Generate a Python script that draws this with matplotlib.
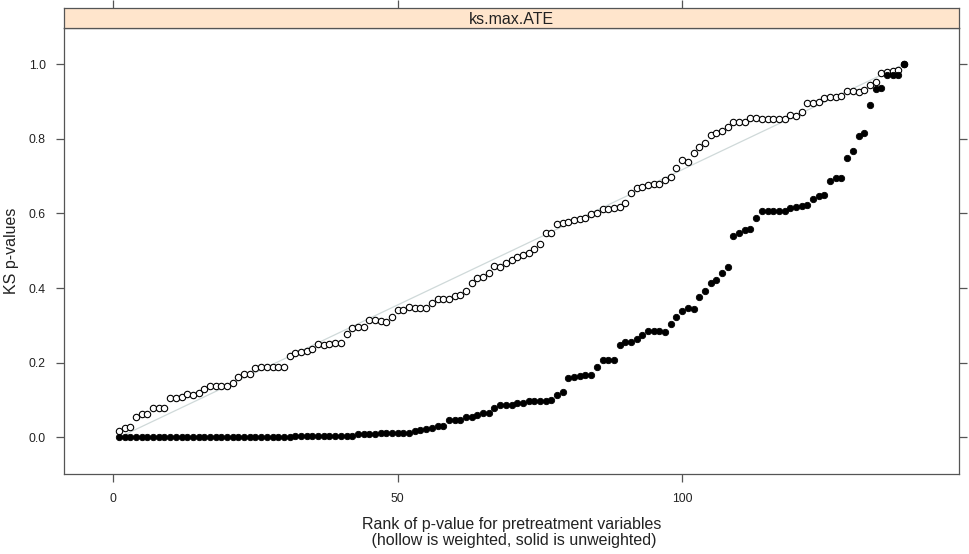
import numpy as np
import matplotlib.pyplot as plt

plt.rcParams['font.family'] = ['Liberation Sans', 'DejaVu Sans']

# KS p-values, sorted
weighted = [0.017, 0.024, 0.029, 0.055, 0.062, 0.062, 0.080, 0.078, 0.080, 0.106,
            0.106, 0.109, 0.117, 0.115, 0.118, 0.131, 0.137, 0.137, 0.137, 0.137,
            0.147, 0.163, 0.170, 0.170, 0.187, 0.189, 0.189, 0.189, 0.189, 0.189,
            0.219, 0.225, 0.229, 0.231, 0.238, 0.250, 0.248, 0.250, 0.254, 0.252,
            0.276, 0.292, 0.297, 0.295, 0.315, 0.315, 0.313, 0.310, 0.323, 0.341,
            0.341, 0.350, 0.348, 0.348, 0.346, 0.361, 0.370, 0.371, 0.370, 0.379,
            0.382, 0.393, 0.415, 0.426, 0.431, 0.440, 0.459, 0.457, 0.468, 0.475,
            0.484, 0.490, 0.493, 0.504, 0.518, 0.547, 0.547, 0.572, 0.574, 0.578,
            0.583, 0.584, 0.587, 0.599, 0.601, 0.611, 0.611, 0.616, 0.618, 0.627,
            0.654, 0.667, 0.670, 0.676, 0.679, 0.679, 0.690, 0.697, 0.721, 0.742,
            0.737, 0.761, 0.779, 0.788, 0.811, 0.817, 0.822, 0.833, 0.846, 0.846,
            0.846, 0.855, 0.855, 0.853, 0.853, 0.853, 0.853, 0.852, 0.864, 0.861,
            0.873, 0.895, 0.895, 0.900, 0.909, 0.911, 0.913, 0.915, 0.929, 0.928,
            0.926, 0.931, 0.944, 0.951, 0.976, 0.980, 0.983, 0.985, 1.000]

unweighted = [0.0] * 31 + [0.004] * 11 + [0.008] * 4 + [0.011] * 6 + \
    [0.017, 0.020, 0.023, 0.026, 0.030, 0.030, 0.046, 0.046, 0.048, 0.055,
     0.055, 0.060, 0.066, 0.066, 0.080, 0.086, 0.086, 0.087, 0.091, 0.093,
     0.098, 0.098, 0.098, 0.098, 0.100, 0.113, 0.122, 0.158, 0.162, 0.164,
     0.167, 0.167, 0.188, 0.208, 0.208, 0.208, 0.248, 0.257, 0.257, 0.263,
     0.274, 0.285, 0.285, 0.285, 0.283, 0.303, 0.322, 0.338, 0.347, 0.345,
     0.377, 0.393, 0.413, 0.423, 0.441, 0.456, 0.540, 0.549, 0.556, 0.558,
     0.587, 0.607, 0.607, 0.607, 0.607, 0.607, 0.616, 0.617, 0.621, 0.623,
     0.639, 0.647, 0.649, 0.688, 0.696, 0.695, 0.750, 0.768, 0.808, 0.817,
     0.890, 0.933, 0.935, 0.971, 0.971, 0.971, 1.000]

n = len(weighted)
rank = np.arange(1, n + 1)

x_ticks = [0, 50, 100]
y_ticks = [0.0, 0.2, 0.4, 0.6, 0.8, 1.0]
y_ticklabels = ['0.0', '0.2', '0.4', '0.6', '0.8', '1.0']

fig = plt.figure(figsize=(9.69, 5.54), dpi=100)
W, H = 969.0, 554.0
# panel and strip placed in pixels like the lattice output
ax = fig.add_axes([64 / W, (H - 474) / H, 895 / W, 446 / H])
strip = fig.add_axes([64 / W, (H - 28) / H, 895 / W, 20 / H])

pad = 0.07 * (n - 1)
xlim = (1 - pad, n + pad)

box_col = '#555555'
txt_col = '#222222'

# reference line for uniform p-values
ax.plot([1, n], [0, 1], color='#cfd9d9', lw=0.9, zorder=1)
ax.plot(rank, weighted, linestyle='none', marker='o', ms=4.6, mfc='white',
        mec='black', mew=0.8, zorder=3)
ax.plot(rank, unweighted, linestyle='none', marker='o', ms=4.6, mfc='black',
        mec='black', mew=0.6, zorder=4)

ax.set_xlim(xlim)
ax.set_ylim(-0.098, 1.097)
ax.set_xticks(x_ticks)
ax.set_yticks(y_ticks)
ax.set_yticklabels(y_ticklabels)
ax.tick_params(axis='both', direction='out', length=6, width=0.9, color=box_col,
               labelsize=8.8, labelcolor=txt_col, pad=7)
ax.tick_params(axis='x', pad=8)
ax.tick_params(axis='y', right=True, labelright=False)
ax.tick_params(axis='x', top=False)
for s in ax.spines.values():
    s.set_color(box_col)
    s.set_linewidth(0.9)

ax.set_ylabel('KS p-values', fontsize=11.5, color=txt_col, labelpad=7)
ax.set_xlabel('Rank of p-value for pretreatment variables\n'
              ' (hollow is weighted, solid is unweighted)',
              fontsize=11.5, color=txt_col, labelpad=8, linespacing=1.15)

# strip with the panel name, top ticks sit above it
strip.set_facecolor('#ffe5cc')
strip.set_xlim(xlim)
strip.set_ylim(0, 1)
strip.set_yticks([])
strip.set_xticks(x_ticks)
strip.tick_params(axis='x', bottom=False, labelbottom=False, top=True,
                  labeltop=False, direction='out', length=6, width=0.9,
                  color=box_col)
for s in strip.spines.values():
    s.set_color(box_col)
    s.set_linewidth(0.9)
strip.text(0.5, 0.45, 'ks.max.ATE', transform=strip.transAxes, ha='center',
           va='center', fontsize=11.5, color=txt_col)

plt.savefig('out.png', dpi=100)
